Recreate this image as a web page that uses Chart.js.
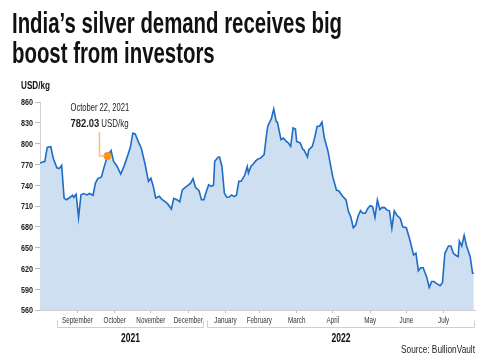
<!DOCTYPE html>
<html>
<head>
<meta charset="utf-8">
<script src="https://cdn.jsdelivr.net/npm/chart.js@4.4.1/dist/chart.umd.min.js"></script>
<style>
html, body { margin: 0; padding: 0; background: #fff; }
#wrap { position: relative; width: 486px; height: 364px; overflow: hidden; }
#c { position: absolute; left: 0; top: 0; }
.t { position: absolute; white-space: nowrap; transform-origin: 0 0; color: #111;
     font-family: "Liberation Sans", Arial, sans-serif; }
#title { left: 12px; top: 9px; font-size: 29px; font-weight: bold; line-height: 29.7px; }
#unit { left: 21px; top: 80px; font-size: 11px; font-weight: bold; line-height: 11px; }
#source { left: 401px; top: 343px; font-size: 11.5px; line-height: 12px; color: #222; }
</style>
</head>
<body>
<div id="wrap">
  <canvas id="c" width="486" height="364"></canvas>
  <div class="t" id="title"><div id="l1">India’s silver demand receives big</div><div id="l2">boost from investors</div></div>
  <div class="t" id="unit">USD/kg</div>
  <div class="t" id="source">Source: BullionVault</div>
</div>
<script>
// days counted from 1 Sep 2021
var days = [-2, 2, 4, 7, 9, 12, 14, 16, 18, 20, 23, 25, 26, 28, 30, 32, 34, 37, 39, 42,
  44, 46, 49, 51, 54, 57, 59, 62, 65, 68, 71, 73, 75, 77, 80, 82, 85, 88, 90, 92,
  94, 97, 99, 102, 104, 107, 109, 112, 114, 116, 118, 121, 123, 125, 127, 130, 132, 134, 136, 138,
  140, 142, 143, 146, 147, 149, 151, 153, 155, 157, 159, 161, 163, 165, 168, 170, 171, 173, 175, 177,
  179, 181, 184, 186, 187, 190, 192, 194, 195, 198, 200, 202, 204, 206, 208, 210, 211, 214, 216, 217,
  220, 221, 224, 226, 228, 230, 232, 234, 237, 239, 241, 244, 246, 249, 252, 254, 256, 258, 260, 262,
  264, 266, 268, 270, 272, 274, 276, 278, 280, 282, 284, 286, 288, 290, 292, 294, 297, 299, 302, 305,
  308, 310, 312, 314, 316, 319, 321, 323, 325, 327, 330, 332, 334, 337, 339, 341, 343, 345, 346, 348,
  350, 352, 355, 357, 358];
var silver = [772, 774.5, 794.6, 795.5, 779, 765, 764, 768.6, 721.5, 719, 722.6, 725.5, 722.6, 727, 693.7, 726, 728, 726, 728, 725.5,
  743, 749.5, 752, 765, 782.03, 790, 774.5, 767, 756, 768.6, 784, 794.6, 815, 814, 801, 793.7, 772, 745.6, 750, 738.4,
  721.5, 724, 720, 715.8, 713, 705.7, 721, 718.7, 716, 733, 736, 740, 743, 749.5, 737, 732, 719, 719, 731, 740.6,
  738.4, 740, 774.5, 780.7, 780.7, 767, 728.7, 722.6, 723, 726, 723.5, 725.5, 745.6, 745.6, 755, 767, 757.6, 767, 770.6, 775,
  777.8, 779, 784, 812.8, 825, 836, 850, 832, 831, 805.6, 808, 804, 801, 796, 822.5, 821, 803, 801, 792, 791,
  780.7, 791, 796, 809, 825, 825, 831, 808, 789, 770, 752, 733, 731.6, 724.4, 718.7, 702, 693.7, 678.7, 682.6, 695.6,
  703.2, 699.5, 699.5, 706.6, 710.4, 709, 693.7, 718.7, 705, 708, 707.7, 704, 703, 678, 703, 697, 692, 680, 678.7, 661,
  639.3, 641.8, 616.7, 621, 621, 607, 592.7, 601, 601, 598.5, 595, 599.4, 641.8, 652.3, 652.3, 641.8, 639, 637, 659.5, 652.3,
  667.7, 652.3, 637, 613, 613];

var monthLabels = ["September", "October", "November", "December", "January", "February", "March", "April", "May", "June", "July"];
var monthTicks = [29, 60, 90, 121, 152, 180, 211, 241, 272, 302, 333];
var yTicks = [560, 590, 620, 650, 680, 710, 740, 770, 800, 830, 860];
var years = ["2021", "2022"];
var yearSpans = [[12, 134], [137, 359]];
var highlight = { x: 54, y: 782.03, date: "October 22, 2021", value: "782.03", unit: "USD/kg" };

var FONT = '"Liberation Sans", Arial, sans-serif';

// squeeze html text to the widths of the narrow reference face
function fit(id, target, rightEdge) {
  var el = document.getElementById(id);
  var w = el.getBoundingClientRect().width;
  var s = target / w;
  el.style.transform = 'scaleX(' + s + ')';
  if (rightEdge) el.style.left = (rightEdge - target) + 'px';
  return s;
}
var ts = fit('l1', 330);
document.getElementById('l1').style.transform = '';
document.getElementById('title').style.transform = 'scaleX(' + ts + ')';
fit('unit', 29);
fit('source', 74, 475);

function squeezed(ctx, text, x, y, font, sx, align) {
  ctx.save();
  ctx.font = font;
  ctx.textBaseline = 'alphabetic';
  var w = ctx.measureText(text).width * sx;
  var x0 = align === 'center' ? x - w / 2 : (align === 'right' ? x - w : x);
  ctx.translate(x0, y);
  ctx.scale(sx, 1);
  ctx.textAlign = 'left';
  ctx.fillText(text, 0, 0);
  ctx.restore();
  return w;
}

var extras = {
  id: 'extras',
  afterDatasetsDraw: function (chart) {
    var ctx = chart.ctx;
    var px = chart.scales.x.getPixelForValue(highlight.x);
    var py = chart.scales.y.getPixelForValue(highlight.y);
    ctx.save();
    ctx.strokeStyle = '#f9bf82';
    ctx.lineWidth = 1.5;
    ctx.beginPath();
    ctx.moveTo(px - 3, py);
    ctx.lineTo(px - 8, py);
    ctx.lineTo(px - 8, py - 24);
    ctx.stroke();
    ctx.restore();
  },
  afterDraw: function (chart) {
    var ctx = chart.ctx;
    var xs = chart.scales.x, ys = chart.scales.y;

    // tick labels in a narrow look
    ctx.fillStyle = '#222';
    ys.ticks.forEach(function (t) {
      squeezed(ctx, String(t.value), xs.left - 7, ys.getPixelForValue(t.value) + 3.4, 'bold 9.5px ' + FONT, 0.76, 'right');
    });
    ctx.fillStyle = '#333';
    xs.ticks.forEach(function (t, i) {
      squeezed(ctx, monthLabels[i], xs.getPixelForValue(t.value), 322.5, '9px ' + FONT, 0.7, 'center');
    });

    // callout text
    var px = xs.getPixelForValue(highlight.x);
    var py = ys.getPixelForValue(highlight.y);
    ctx.fillStyle = '#222';
    squeezed(ctx, highlight.date, px - 37, py - 45, '11px ' + FONT, 0.69, 'left');
    var w = squeezed(ctx, highlight.value, px - 37, py - 29, 'bold 11.5px ' + FONT, 0.82, 'left');
    squeezed(ctx, highlight.unit, px - 37 + w + 2, py - 29, '11px ' + FONT, 0.72, 'left');

    // year brackets
    ctx.save();
    ctx.strokeStyle = '#cfcfcf';
    ctx.lineWidth = 1;
    for (var i = 0; i < years.length; i++) {
      var a = Math.round(xs.getPixelForValue(yearSpans[i][0])) + 0.5;
      var b = Math.round(xs.getPixelForValue(yearSpans[i][1])) - 0.5;
      var yb = 327.5;
      ctx.beginPath();
      ctx.moveTo(a, yb - 7);
      ctx.lineTo(a, yb);
      ctx.lineTo(b, yb);
      ctx.lineTo(b, yb - 7);
      ctx.stroke();
      ctx.fillStyle = '#111';
      squeezed(ctx, years[i], (a + b) / 2, 342, 'bold 13px ' + FONT, 0.66, 'center');
    }
    ctx.restore();
  }
};

new Chart(document.getElementById('c'), {
  type: 'line',
  data: {
    datasets: [
      {
        data: [{ x: highlight.x, y: highlight.y }],
        showLine: false,
        pointRadius: 4,
        pointBackgroundColor: '#f7931e',
        pointBorderWidth: 0,
        order: 0
      },
      {
        data: days.map(function (d, i) { return { x: d, y: silver[i] }; }),
        borderColor: '#1f6cc4',
        borderWidth: 1.6,
        backgroundColor: '#cddff1',
        fill: 'start',
        tension: 0,
        pointRadius: 0,
        order: 1
      }
    ]
  },
  options: {
    responsive: false,
    animation: false,
    layout: { padding: { left: 0, top: 102, right: 11, bottom: 0 } },
    plugins: { legend: { display: false }, tooltip: { enabled: false } },
    scales: {
      x: {
        type: 'linear',
        min: -2,
        max: 359,
        afterFit: function (s) { s.height = 54; },
        afterBuildTicks: function (s) { s.ticks = monthTicks.map(function (v) { return { value: v }; }); },
        grid: { drawOnChartArea: false, tickLength: 3, color: '#bdbdbd' },
        border: { color: '#d0d0d0' },
        ticks: { display: false }
      },
      y: {
        min: 560,
        max: 860,
        afterFit: function (s) { s.width = 40; },
        afterBuildTicks: function (s) { s.ticks = yTicks.map(function (v) { return { value: v }; }); },
        grid: { drawOnChartArea: false, tickLength: 5, color: '#bdbdbd' },
        border: { color: '#d0d0d0' },
        ticks: { display: false }
      }
    }
  },
  plugins: [extras]
});
</script>
</body>
</html>
